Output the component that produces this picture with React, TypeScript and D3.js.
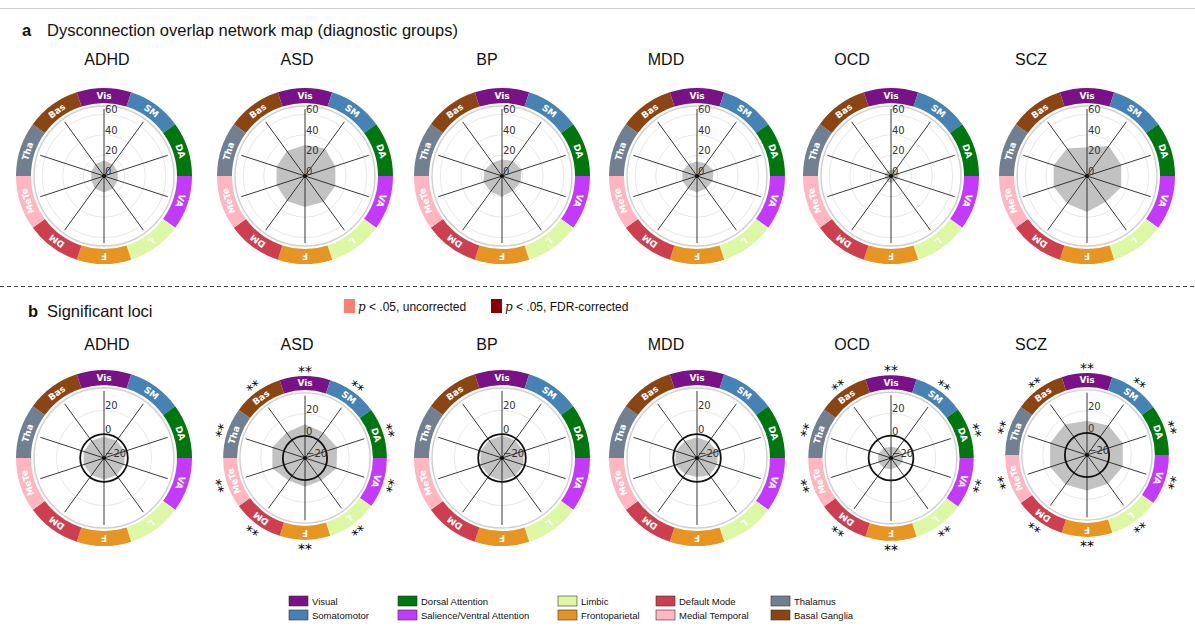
import React from 'react';
import * as d3 from 'd3';

const networks = ['Vis', 'SM', 'DA', 'VA', 'L', 'F', 'DM', 'MeTe', 'Tha', 'Bas'];
const networkNames = ['Visual', 'Somatomotor', 'Dorsal Attention', 'Salience/Ventral Attention', 'Limbic', 'Frontoparietal', 'Default Mode', 'Medial Temporal', 'Thalamus', 'Basal Ganglia'];
const networkColors = ['#781286', '#4682B4', '#00760E', '#C43AFA', '#DCF8A4', '#E69422', '#CD3E4E', '#FFB6C1', '#708090', '#8B4513'];
const groups = ['ADHD', 'ASD', 'BP', 'MDD', 'OCD', 'SCZ'];

// panel a: dysconnection overlap (%)
const overlapADHD = [15, 14, 14, 14, 15, 16, 15, 13, 13, 14];
const overlapASD = [30, 33, 31, 31, 31, 30, 30, 29, 29, 30];
const overlapBP = [16, 18, 20, 19, 18, 20, 19, 19, 18, 16];
const overlapMDD = [14, 15, 17, 16, 15, 16, 15, 15, 15, 14];
const overlapOCD = [6, 7, 8, 7, 6, 7, 6, 6, 6, 6];
const overlapSCZ = [28, 36, 35, 35, 31, 35, 33, 34, 34, 33];

// panel b: significant loci
const lociADHD = [-2, -2, -1.5, -2, -2, -2, -2, -2, -2, -2];
const lociASD = [10.5, 8.5, 10.5, 10, 5, 6, 5, 11, 11, 8.5];
const lociBP = [-1, -1.5, -1, -1, -1.5, -1, -1.5, -1, -1, -1.5];
const lociMDD = [-2.5, -3, -2, -2, -2, -4, -3, -1, -1, -2.5];
const lociOCD = [-10, -9, -9, -9, -10, -10, -9, -8, -8, -9];
const lociSCZ = [11, 13, 14, 14, 12, 12, 13, 15, 15, 14];

const significantGroups = ['ASD', 'OCD', 'SCZ'];
const overlapTicks = [0, 20, 40, 60];
const lociTicks = [-20, 0, 20];

const overlapData = [overlapADHD, overlapASD, overlapBP, overlapMDD, overlapOCD, overlapSCZ];
const lociData = [lociADHD, lociASD, lociBP, lociMDD, lociOCD, lociSCZ];

const W = 1195;
const H = 642;
const centersX = [104, 305, 502, 697, 891, 1087];
const titlesX = [107, 297, 487, 666, 852, 1031];
const SANS = 'Liberation Sans, Arial, Helvetica, sans-serif';
const DJ = 'DejaVu Sans, sans-serif';

const TAU = Math.PI * 2;
const N = networks.length;

function Radar({ cx, cy, s, values, domain, ticks, gridVals, zero, stars }: any) {
  const rScale = d3.scaleLinear().domain(domain).range([0, 70 * s]);
  const ang = (i: number) => (i * TAU) / N;
  const line = d3
    .lineRadial<number>()
    .angle((_, i) => ang(i))
    .radius((v) => rScale(v))
    .curve(d3.curveLinearClosed);
  const arc = d3.arc<any>();
  const rIn = 73 * s;
  const rOut = 88 * s;
  const rMid = (rIn + rOut) / 2;
  const spoke = 67 * s;
  return (
    <g transform={`translate(${cx},${cy})`}>
      {gridVals.map((g: number) => (
        <circle key={g} r={rScale(g)} fill="none" stroke="#e2e2e2" strokeWidth={0.8} />
      ))}
      <path d={line(values) || ''} fill="#c2c2c2" stroke="none" />
      {networks.map((_, i) => {
        const a = ang(i);
        return (
          <line
            key={i}
            x1={0}
            y1={0}
            x2={spoke * Math.sin(a)}
            y2={-spoke * Math.cos(a)}
            stroke="#222"
            strokeWidth={0.9}
          />
        );
      })}
      {zero && <circle r={rScale(0)} fill="none" stroke="#111" strokeWidth={1.8} />}
      <circle r={70 * s} fill="none" stroke="#cfcfcf" strokeWidth={1.4} />
      <circle r={2} fill="#111" />
      {ticks.map((t: number) => (
        <text
          key={t}
          x={1}
          y={-rScale(t) - 1}
          fontFamily={DJ}
          fontSize={10}
          fill="#333"
        >
          {t < 0 ? `\u2212${Math.abs(t)}` : t}
        </text>
      ))}
      {networks.map((n, i) => {
        const a0 = ang(i) - Math.PI / N;
        const a1 = ang(i) + Math.PI / N;
        return (
          <path
            key={n}
            d={arc({ innerRadius: rIn, outerRadius: rOut, startAngle: a0, endAngle: a1 }) || ''}
            fill={networkColors[i]}
          />
        );
      })}
      {networks.map((n, i) => (
        <text
          key={n}
          transform={`rotate(${(i * 360) / N}) translate(0,${-rMid})`}
          textAnchor="middle"
          dy="0.36em"
          fontFamily={DJ}
          fontWeight="bold"
          fontSize={9}
          fill="#fff"
        >
          {n}
        </text>
      ))}
      {stars &&
        networks.map((n, i) => (
          <text
            key={'s' + n}
            transform={`rotate(${(i * 360) / N}) translate(0,${-(rOut + 9)})`}
            textAnchor="middle"
            dy="0.6em"
            fontFamily={DJ}
            fontSize={14}
            fill="#000"
          >
            **
          </text>
        ))}
    </g>
  );
}

export default function App() {
  const cyA = 176;
  const cyB = 458;
  const scaleB = [1, 0.93, 1, 1, 0.94, 0.93];
  const cyBAdj = [0, 0, 0, 0, 0, -3];
  const legendCols = [0, 1, 2, 3, 4];
  const legendX = [289, 398, 558, 656, 771];
  return (
    <svg width={W} height={H} style={{ display: 'block', position: 'absolute', left: 0, top: 0 }}>
      <rect width={W} height={H} fill="#fff" />
      <line x1={0} x2={W} y1={8.5} y2={8.5} stroke="#cccccc" strokeWidth={1} />
      <text x={22} y={36} fontFamily={SANS} fontSize={16.5} fontWeight="bold" fill="#111">a</text>
      <text x={47} y={36} fontFamily={SANS} fontSize={16.5} fill="#111">Dysconnection overlap network map (diagnostic groups)</text>
      {groups.map((g, i) => (
        <g key={'a' + g}>
          <text x={titlesX[i]} y={65} textAnchor="middle" fontFamily={SANS} fontSize={16} fill="#111">{g}</text>
          <Radar
            cx={centersX[i]}
            cy={cyA}
            s={1}
            values={overlapData[i]}
            domain={[0, 68]}
            ticks={overlapTicks}
            gridVals={[20, 40, 60]}
            zero={false}
            stars={false}
          />
        </g>
      ))}
      <line x1={0} x2={W} y1={286.5} y2={286.5} stroke="#444" strokeWidth={1} strokeDasharray="4,3" />
      <text x={28} y={317} fontFamily={SANS} fontSize={16.5} fontWeight="bold" fill="#111">b</text>
      <text x={47} y={317} fontFamily={SANS} fontSize={16.5} fill="#111">Significant loci</text>
      <rect x={344} y={299} width={11} height={14} fill="#FA8072" />
      <text x={358} y={311} fontFamily={SANS} fontSize={12} fill="#111">
        <tspan fontFamily="DejaVu Serif, serif" fontStyle="italic">p</tspan>
        <tspan> &lt; .05, uncorrected</tspan>
      </text>
      <rect x={491} y={299} width={11} height={14} fill="#8B0000" />
      <text x={505} y={311} fontFamily={SANS} fontSize={12} fill="#111">
        <tspan fontFamily="DejaVu Serif, serif" fontStyle="italic">p</tspan>
        <tspan> &lt; .05, FDR-corrected</tspan>
      </text>
      {groups.map((g, i) => (
        <g key={'b' + g}>
          <text x={titlesX[i]} y={350} textAnchor="middle" fontFamily={SANS} fontSize={16} fill="#111">{g}</text>
          <Radar
            cx={centersX[i]}
            cy={cyB + cyBAdj[i]}
            s={scaleB[i]}
            values={lociData[i]}
            domain={[-20, 38.8]}
            ticks={lociTicks}
            gridVals={[20]}
            zero={true}
            stars={significantGroups.includes(g)}
          />
        </g>
      ))}
      {legendCols.map((c) =>
        [0, 1].map((r) => {
          const k = c * 2 + r;
          const y = 596 + r * 14;
          return (
            <g key={'l' + k}>
              <rect x={legendX[c]} y={y} width={19} height={10} fill={networkColors[k]} stroke="#333" strokeWidth={0.6} />
              <text x={legendX[c] + 23} y={y + 8.5} fontFamily={SANS} fontSize={9.5} fill="#111">
                {networkNames[k]}
              </text>
            </g>
          );
        })
      )}
    </svg>
  );
}
